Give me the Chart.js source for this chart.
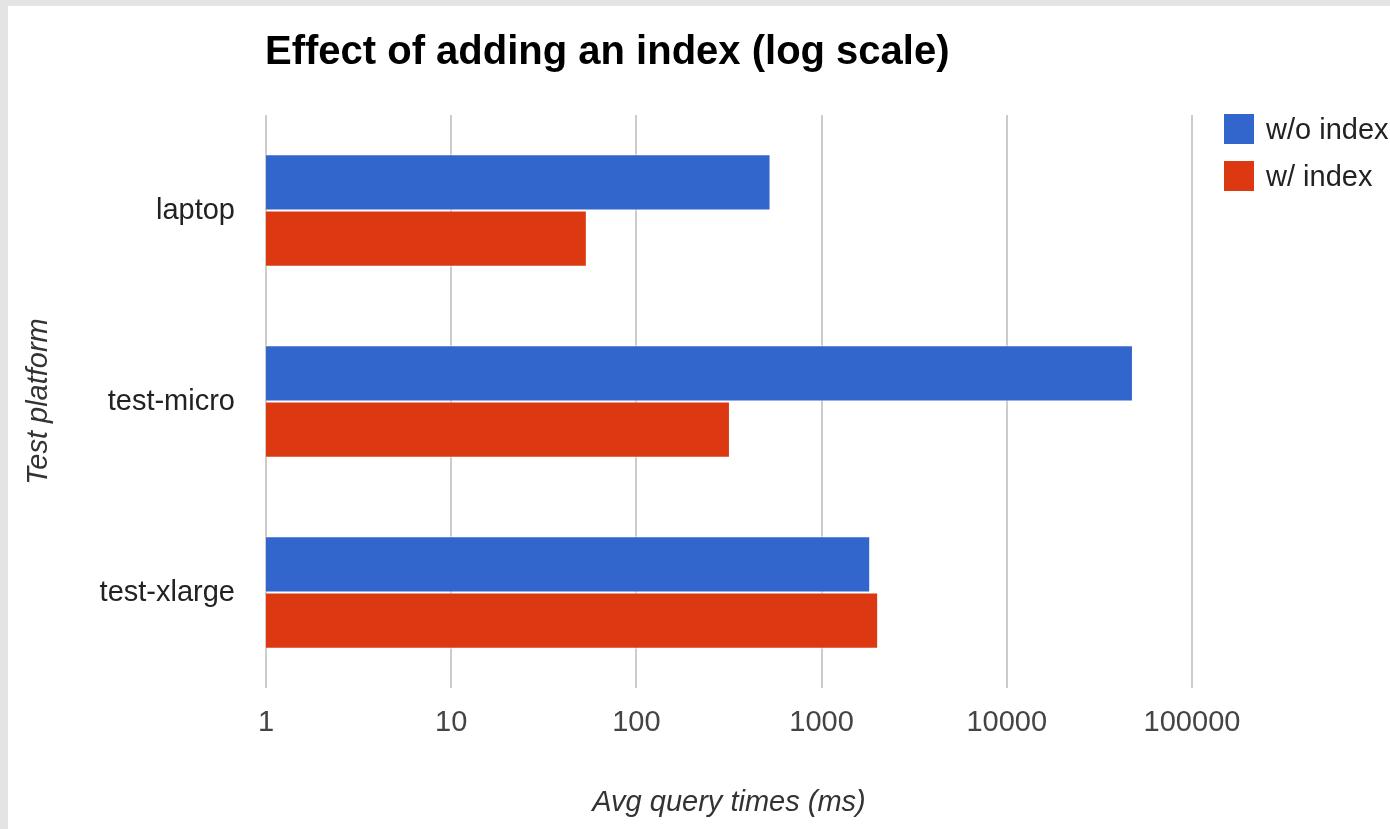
<!DOCTYPE html>
<html lang="en">
  <head>
    <meta charset="utf-8" />
    <title>Effect of adding an index (log scale)</title>
    <style>
      * {
        margin: 0;
        padding: 0;
      }
      body {
        width: 1390px;
        height: 829px;
        background: #e4e4e4;
        overflow: hidden;
        font-family: "Liberation Sans", Arial, sans-serif;
      }
      .card {
        position: absolute;
        left: 8px;
        top: 6px;
        width: 1382px;
        height: 823px;
        background: white;
      }
      .chartBox {
        position: absolute;
        left: 0;
        top: 0;
        width: 1390px;
        height: 829px;
      }
      .title {
        position: absolute;
        left: 265px;
        top: 28px;
        font-size: 40px;
        font-weight: bold;
        color: #000;
        white-space: nowrap;
      }
      .legend {
        position: absolute;
        left: 1224px;
        top: 114px;
      }
      .legend div {
        display: flex;
        align-items: center;
        height: 30px;
        margin-bottom: 17px;
        font-size: 29px;
        color: #222;
        white-space: nowrap;
      }
      .legend span {
        display: inline-block;
        width: 30px;
        height: 30px;
        margin-right: 12px;
      }
    </style>
  </head>
  <body>
    <div class="card"></div>
    <div class="chartBox">
      <canvas id="myChart" width="1390" height="829"></canvas>
    </div>
    <div class="title">Effect of adding an index (log scale)</div>
    <div class="legend" id="legend"></div>

    <script src="https://cdn.jsdelivr.net/npm/chart.js@4.4.0/dist/chart.umd.min.js"></script>

    <script>
      // data block
      const platforms = ["laptop", "test-micro", "test-xlarge"];
      const withoutIndex = [530, 48000, 1830];
      const withIndex = [54, 320, 2020];
      const tickValues = [1, 10, 100, 1000, 10000, 100000];
      const seriesNames = ["w/o index", "w/ index"];
      const seriesColors = ["#3366cc", "#dc3912"];

      const data = {
        labels: platforms,
        datasets: [
          {
            label: seriesNames[0],
            data: withoutIndex,
            backgroundColor: seriesColors[0],
            borderColor: "rgba(255,255,255,0.7)",
            borderWidth: 1,
          },
          {
            label: seriesNames[1],
            data: withIndex,
            backgroundColor: seriesColors[1],
            borderColor: "rgba(255,255,255,0.7)",
            borderWidth: 1,
          },
        ],
      };

      // legend in html
      const legendEl = document.getElementById("legend");
      seriesNames.forEach((name, i) => {
        const row = document.createElement("div");
        row.innerHTML =
          '<span style="background:' + seriesColors[i] + '"></span>' + name;
        legendEl.appendChild(row);
      });

      const font = "'Liberation Sans', Arial, sans-serif";

      // config block
      const config = {
        type: "bar",
        data: data,
        options: {
          indexAxis: "y",
          responsive: false,
          animation: false,
          categoryPercentage: 0.59,
          barPercentage: 1,
          layout: {
            padding: { top: 115, right: 198, left: 0, bottom: 0 },
          },
          plugins: {
            legend: { display: false },
            tooltip: { enabled: false },
          },
          scales: {
            x: {
              type: "logarithmic",
              min: 1,
              max: 100000,
              afterBuildTicks: (scale) => {
                scale.ticks = tickValues.map((v) => ({ value: v }));
              },
              afterFit: (scale) => {
                scale.height = 141;
              },
              border: { display: false },
              grid: {
                color: "#cccccc",
                lineWidth: 2,
                drawTicks: false,
              },
              ticks: {
                padding: 18,
                color: "#444",
                font: { family: font, size: 29 },
                maxRotation: 0,
                callback: (v) => String(v),
              },
              title: {
                display: true,
                text: "Avg query times (ms)",
                color: "#333",
                font: { family: font, size: 29, style: "italic" },
                padding: { top: 0, bottom: 9 },
              },
            },
            y: {
              afterFit: (scale) => {
                scale.width = 266;
              },
              border: { display: false },
              grid: { display: false, drawTicks: false },
              ticks: {
                padding: 31,
                color: "#222",
                font: { family: font, size: 29 },
              },
              title: {
                display: true,
                text: "Test platform",
                color: "#333",
                font: { family: font, size: 29, style: "italic" },
                padding: { top: 22, bottom: 0 },
              },
            },
          },
        },
      };

      // init render block
      const myChart = new Chart(document.getElementById("myChart"), config);
    </script>
  </body>
</html>
